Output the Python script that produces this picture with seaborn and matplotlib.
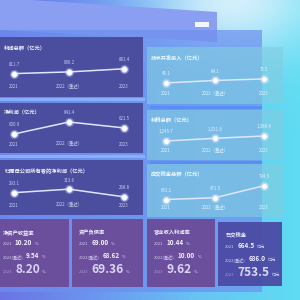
import numpy as np
import pandas as pd
import seaborn as sns
import matplotlib.pyplot as plt
import matplotlib.transforms as mtransforms
from matplotlib.patches import Rectangle, Polygon
from matplotlib.colors import LinearSegmentedColormap, to_rgb

sns.set_style("white")
plt.rcParams['font.family'] = ['Noto Sans CJK SC', 'DejaVu Sans']

# ---- data ----
years = ["2021", "2022（重述）", "2023"]

profit_total = [811.7, 836.2, 881.4]
net_profit = [600.9, 641.4, 621.5]
parent_net_profit = [293.1, 313.6, 268.8]
rd_invest = [46.1, 64.1, 75.5]
profit_tax = [1245.7, 1321.8, 1386.4]
tax_payable = [653.2, 671.5, 794.6]

card_titles = ["净资产收益率", "资产负债率", "营业收入利润率", "已交税金"]
card_years = ["2021", "2022(重述)", "2023"]
roe = ["10.20", "9.54", "8.20"]
debt_ratio = ["69.00", "68.62", "69.36"]
margin = ["10.44", "10.00", "9.62"]
tax_paid = ["664.5", "686.0", "753.5"]
card_units = ["%", "%", "%", "亿元"]

W, H = 300, 300
fig = plt.figure(figsize=(3, 3), dpi=100)
renderer = fig.canvas.get_renderer()


def px_box(x0, y0, x1, y1):
    return [x0 / W, 1 - y1 / H, (x1 - x0) / W, (y1 - y0) / H]


# ---- background gradient ----
bg = fig.add_axes([0, 0, 1, 1])
cmap = LinearSegmentedColormap.from_list("bg", ["#6a74e4", "#6c98f0", "#68c4f4", "#5fdcf2"])
X, Y = np.meshgrid(np.linspace(0, 1, 300), np.linspace(0, 1, 300))
img = cmap(X)[:, :, :3]
glow = np.exp(-(((X - 0.78) / 0.28) ** 2 + (Y / 0.18) ** 2))
img = img * (1 - 0.8 * glow[..., None]) + 0.8 * glow[..., None] * np.array(to_rgb("#eef8ff"))
bg.imshow(img, extent=[0, W, H, 0], aspect="auto")
bg.set_xlim(0, W)
bg.set_ylim(H, 0)
bg.axis("off")

# decorative back layers
bg.add_patch(Polygon([(0, -2), (217, 12), (217, 42), (0, 30)], closed=True, color="#8a9ef2", lw=0))
bg.add_patch(Rectangle((0, 30), 262, 262, color="#6d8fee", alpha=0.7, lw=0))
bg.add_patch(Rectangle((195, 22), 14, 5, color="#f2f6ff", lw=0))
bg.add_patch(Rectangle((0, 98), 145, 3, color="#8fb8ff", alpha=0.8, lw=0))
bg.add_patch(Rectangle((0, 155), 145, 3, color="#8fb8ff", alpha=0.8, lw=0))
bg.add_patch(Rectangle((150, 106), 112, 2.5, color="#5a8cf4", alpha=0.9, lw=0))
bg.add_patch(Rectangle((150, 161), 112, 2.5, color="#5a8cf4", alpha=0.9, lw=0))


def line_panel(box, title, values, face, alpha, xlim, yfrac, txt, sub):
    ax = fig.add_axes(px_box(*box))
    ax.set_facecolor(face)
    ax.patch.set_alpha(alpha)
    df = pd.DataFrame({"x": [0, 1, 2], "v": values})
    ax.scatter(df.x, df.v, s=45, color="white", alpha=0.25, lw=0, zorder=2)
    sns.lineplot(data=df, x="x", y="v", ax=ax, color="#dfe6ff", lw=1.1,
                 marker="o", markersize=4.2, markerfacecolor="white",
                 markeredgecolor="#c9d6ff", markeredgewidth=0.6, zorder=3)
    lo, hi = min(values), max(values)
    f0, f1 = yfrac
    span = (hi - lo) / (f1 - f0)
    ax.set_ylim(lo - f0 * span, lo - f0 * span + span)
    ax.set_xlim(*xlim)
    for s in ax.spines.values():
        s.set_visible(False)
    ax.set_xticks([])
    ax.set_yticks([])
    ax.set_xlabel("")
    ax.set_ylabel("")
    ax.text(0.03, 0.8, title, transform=ax.transAxes, fontsize=3.8,
            color=txt, ha="left", va="center", fontweight="bold")
    trans = mtransforms.blended_transform_factory(ax.transData, ax.transAxes)
    for i, v in enumerate(values):
        ax.annotate(f"{v:,.1f}", (i, v), xytext=(0, 6.5), textcoords="offset points",
                    ha="center", va="center", fontsize=3.2, color=sub)
        ax.text(i, 0.18, years[i], transform=trans, ha="center", va="center",
                fontsize=3.2, color=sub)
    return ax


left_face = "#4b4d9f"
right_face = "#82cde0"
lx = (-0.255, 2.345)
rx = (-0.39, 2.39)

line_panel((0, 37, 143, 97), "利润总额（亿元）", profit_total, left_face, 1.0, lx, (0.39, 0.47), "#eef0ff", "#c9cff2")
line_panel((0, 103, 143, 153), "净利润（亿元）", net_profit, left_face, 1.0, lx, (0.38, 0.62), "#eef0ff", "#c9cff2")
line_panel((0, 160, 143, 215), "归属母公司所有者的净利润（亿元）", parent_net_profit, left_face, 1.0, lx, (0.33, 0.47), "#eef0ff", "#c9cff2")
line_panel((147, 47, 283, 104), "技术开发投入（亿元）", rd_invest, right_face, 0.62, rx, (0.37, 0.44), "#f0faff", "#e0f2ff")
line_panel((147, 110, 283, 160), "利税总额（亿元）", profit_tax, right_face, 0.62, rx, (0.38, 0.48), "#f0faff", "#e0f2ff")
line_panel((147, 164, 283, 217), "应交税金总额（亿元）", tax_payable, right_face, 0.62, rx, (0.33, 0.59), "#f0faff", "#e0f2ff")


# ---- KPI cards ----
def card(box, title, vals, unit, face, alpha, pad):
    ax = fig.add_axes(px_box(*box))
    ax.set_facecolor(face)
    ax.patch.set_alpha(alpha)
    ax.set_xlim(box[0], box[2])
    ax.set_ylim(box[3], box[1])
    ax.set_xticks([])
    ax.set_yticks([])
    for s in ax.spines.values():
        s.set_visible(False)
    x0 = box[0] + pad
    ax.text(x0, box[1] + 14, title, fontsize=3.8, color="#f2f0ff",
            fontweight="bold", ha="left", va="center")
    rows_y = [box[1] + 26, box[1] + 39, box[1] + 54]
    sizes = [4.6, 4.6, 8.6]
    for k in range(3):
        t = ax.text(x0, rows_y[k], card_years[k], fontsize=3.0,
                    color="#d8d0f2" if k < 2 else "#a99ad0", ha="left", va="baseline")
        x1 = t.get_window_extent(renderer).x1 * W / fig.bbox.width
        v = ax.text(x1 + 3, rows_y[k], vals[k], fontsize=sizes[k],
                    fontweight="bold", color="#f4f2ff" if k < 2 else "#dcd6f6",
                    ha="left", va="baseline")
        x2 = v.get_window_extent(renderer).x1 * W / fig.bbox.width
        ax.text(x2 + 2.5, rows_y[k], unit, fontsize=3.0, color="#e0dcf6",
                ha="left", va="baseline")


purple = "#6b4f9c"
card((0, 219, 69, 287), card_titles[0], roe, card_units[0], purple, 1.0, 2.5)
card((72, 219, 143, 287), card_titles[1], debt_ratio, card_units[1], purple, 1.0, 7)
card((147, 219, 215, 287), card_titles[2], margin, card_units[2], purple, 1.0, 7)
card((218, 222, 282, 286), card_titles[3], tax_paid, card_units[3], "#4a47a2", 0.92, 7)

fig.savefig("out.png", dpi=100)
